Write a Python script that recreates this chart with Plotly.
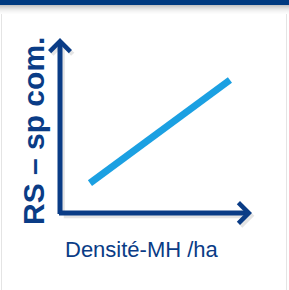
import plotly.graph_objects as go

# Conceptual data (arbitrary units): species richness rises with density
trend_x = [1.56, 8.85]
trend_y = [1.71, 7.6]
x_label = "Densité-MH /ha"
y_label = "RS – sp com."
axis_x_end = 10.0
axis_y_end = 10.0

NAVY = "#0A3C86"
LINE = "#1BA0E2"

W, H = 289, 290
px_per_x = 19.2
px_per_y = 17.5
origin_px = (60, 213)

x_range = [-origin_px[0] / px_per_x, (W - origin_px[0]) / px_per_x]
y_range = [(origin_px[1] - H) / px_per_y, origin_px[1] / px_per_y]

fig = go.Figure()
fig.add_trace(go.Scatter(x=trend_x, y=trend_y, mode="lines",
                         line=dict(color=LINE, width=7), hoverinfo="skip"))

shapes = []
# top banner
shapes.append(dict(type="rect", xref="paper", yref="paper", x0=0, x1=1,
                   y0=1 - 5 / H, y1=1, fillcolor="#003A80", line_width=0, layer="above"))
grays = ["#c4c4c4", "#cfcfcf", "#d9d9d9", "#e2e2e2", "#eaeaea", "#f0f0f0", "#f5f5f5", "#f9f9f9", "#fcfcfc"]
for i, g in enumerate(grays):
    shapes.append(dict(type="rect", xref="paper", yref="paper", x0=0, x1=1,
                       y0=1 - (6 + i) / H, y1=1 - (5 + i) / H, fillcolor=g, line_width=0))
# faint frame lines
for xp in [1.5 / W, 1 - 2.5 / W]:
    shapes.append(dict(type="line", xref="paper", yref="paper", x0=xp, x1=xp,
                       y0=0, y1=1 - 14 / H, line=dict(color="#e4e4e4", width=1)))

annotations = []
# shadows of axes
for dx, dy, col in [(0.12, -0.15, "rgba(0,0,0,0.10)")]:
    annotations.append(dict(x=axis_x_end + dx, y=0 + dy, ax=0 + dx, ay=0 + dy,
                            xref="x", yref="y", axref="x", ayref="y", text="",
                            showarrow=True, arrowhead=4, arrowsize=0.8, arrowwidth=5, arrowcolor=col))
    annotations.append(dict(x=0 + dx, y=axis_y_end + dy, ax=0 + dx, ay=0 + dy,
                            xref="x", yref="y", axref="x", ayref="y", text="",
                            showarrow=True, arrowhead=4, arrowsize=0.8, arrowwidth=5, arrowcolor=col))
# axes arrows
annotations.append(dict(x=axis_x_end, y=0, ax=-0.13, ay=0, xref="x", yref="y", axref="x", ayref="y",
                        text="", showarrow=True, arrowhead=4, arrowsize=0.8, arrowwidth=5, arrowcolor=NAVY))
annotations.append(dict(x=0, y=axis_y_end, ax=0, ay=-0.14, xref="x", yref="y", axref="x", ayref="y",
                        text="", showarrow=True, arrowhead=4, arrowsize=0.8, arrowwidth=5, arrowcolor=NAVY))
# labels
annotations.append(dict(x=141.5 / W, y=1 - 249 / H, xref="paper", yref="paper", text=x_label,
                        showarrow=False, xanchor="center", yanchor="middle",
                        font=dict(family="Liberation Sans, Arial", size=22, color=NAVY)))
annotations.append(dict(x=33 / W, y=1 - 131 / H, xref="paper", yref="paper", text="<b>" + y_label + "</b>",
                        showarrow=False, textangle=-90, xanchor="center", yanchor="middle",
                        font=dict(family="Liberation Sans, Arial", size=30, color=NAVY)))

fig.update_layout(
    width=W, height=H, margin=dict(l=0, r=0, t=0, b=0),
    paper_bgcolor="white", plot_bgcolor="white", showlegend=False,
    xaxis=dict(range=x_range, visible=False, fixedrange=True),
    yaxis=dict(range=y_range, visible=False, fixedrange=True),
    shapes=shapes, annotations=annotations,
)
fig.write_html("out.html", config={"displayModeBar": False},
               post_script="document.body.style.margin='0';document.body.style.overflow='hidden';")
